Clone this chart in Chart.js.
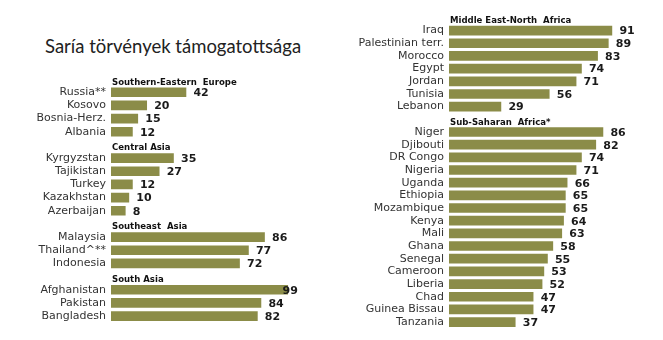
<!DOCTYPE html>
<html>
<head>
<meta charset="utf-8">
<script src="https://cdn.jsdelivr.net/npm/chart.js@4"></script>
<style>
  body { margin: 0; background: #fff; width: 663px; height: 340px; overflow: hidden; position: relative; }
  #title { position: absolute; left: 45px; top: 35px; font-family: Lato, sans-serif; font-size: 18.5px; color: #222; white-space: nowrap; }
  #leftChart { position: absolute; left: 0; top: 0; }
  #rightChart { position: absolute; left: 330px; top: 0; }
</style>
</head>
<body>
<div id="title">Saría törvények támogatottsága</div>
<canvas id="leftChart" width="330" height="340"></canvas>
<canvas id="rightChart" width="333" height="340"></canvas>
<script>
// left panel
const seEuropeTitle = "Southern-Eastern  Europe";
const seEurope = ["Russia**", "Kosovo", "Bosnia-Herz.", "Albania"];
const seEuropeVals = [42, 20, 15, 12];
const centralAsiaTitle = "Central Asia";
const centralAsia = ["Kyrgyzstan", "Tajikistan", "Turkey", "Kazakhstan", "Azerbaijan"];
const centralAsiaVals = [35, 27, 12, 10, 8];
const seAsiaTitle = "Southeast  Asia";
const seAsia = ["Malaysia", "Thailand^**", "Indonesia"];
const seAsiaVals = [86, 77, 72];
const southAsiaTitle = "South Asia";
const southAsia = ["Afghanistan", "Pakistan", "Bangladesh"];
const southAsiaVals = [99, 84, 82];

// right panel
const menaTitle = "Middle East-North  Africa";
const mena = ["Iraq", "Palestinian terr.", "Morocco", "Egypt", "Jordan", "Tunisia", "Lebanon"];
const menaVals = [91, 89, 83, 74, 71, 56, 29];
const ssaTitle = "Sub-Saharan  Africa*";
const ssa = ["Niger", "Djibouti", "DR Congo", "Nigeria", "Uganda", "Ethiopia", "Mozambique", "Kenya",
  "Mali", "Ghana", "Senegal", "Cameroon", "Liberia", "Chad", "Guinea Bissau", "Tanzania"];
const ssaVals = [86, 82, 74, 71, 66, 65, 65, 64, 63, 58, 55, 53, 52, 47, 47, 37];

// build category list, one empty slot per group header
function buildRows(groups) {
  const labels = [], values = [], headers = [];
  groups.forEach(g => {
    headers.push({ index: labels.length, text: g[0] });
    labels.push("");
    values.push(null);
    g[1].forEach((c, i) => { labels.push(c); values.push(g[2][i]); });
  });
  return { labels, values, headers };
}

const leftRows = buildRows([
  [seEuropeTitle, seEurope, seEuropeVals],
  [centralAsiaTitle, centralAsia, centralAsiaVals],
  [seAsiaTitle, seAsia, seAsiaVals],
  [southAsiaTitle, southAsia, southAsiaVals]
]);
const rightRows = buildRows([
  [menaTitle, mena, menaVals],
  [ssaTitle, ssa, ssaVals]
]);

const barColor = "#8b8c48";

const extrasPlugin = {
  id: "extras",
  afterDatasetsDraw(chart, args, opts) {
    const ctx = chart.ctx;
    const yScale = chart.scales.y;
    const area = chart.chartArea;
    ctx.save();
    // group headers
    ctx.fillStyle = "#111";
    ctx.font = "bold 9.5px 'DejaVu Sans Condensed', 'DejaVu Sans', sans-serif";
    ctx.textAlign = "left";
    ctx.textBaseline = "middle";
    opts.headers.forEach(h => {
      ctx.fillText(h.text, area.left + 1, yScale.getPixelForValue(h.index) + 3);
    });
    // value labels
    ctx.fillStyle = "#1a1a1a";
    ctx.font = "bold 11px 'DejaVu Sans', sans-serif";
    const meta = chart.getDatasetMeta(0);
    chart.data.datasets[0].data.forEach((v, i) => {
      if (v == null) return;
      const bar = meta.data[i];
      const x = Math.min(bar.x + 7.5, area.right - 7);
      ctx.fillText(v, x, bar.y + 1);
    });
    ctx.restore();
  }
};

function makeChart(id, rows, axisWidth, pad) {
  return new Chart(document.getElementById(id), {
    type: "bar",
    data: {
      labels: rows.labels,
      datasets: [{
        data: rows.values,
        backgroundColor: barColor,
        barThickness: 9
      }]
    },
    options: {
      indexAxis: "y",
      responsive: false,
      animation: false,
      devicePixelRatio: 1,
      layout: { padding: pad },
      plugins: {
        legend: { display: false },
        tooltip: { enabled: false },
        extras: { headers: rows.headers }
      },
      scales: {
        x: { display: false, min: 0, max: 100 },
        y: {
          grid: { display: false, drawTicks: false },
          border: { display: false },
          ticks: {
            padding: 5,
            color: "#333",
            autoSkip: false,
            font: { family: "'DejaVu Sans', sans-serif", size: 11 }
          },
          afterFit(scale) { scale.width = axisWidth; }
        }
      }
    },
    plugins: [extrasPlugin]
  });
}

makeChart("leftChart", leftRows, 111, { left: 0, right: 40.5, top: 72.5, bottom: 17.3 });
makeChart("rightChart", rightRows, 119, { left: 0, right: 35, top: 2.4, bottom: 10.4 });
</script>
</body>
</html>
